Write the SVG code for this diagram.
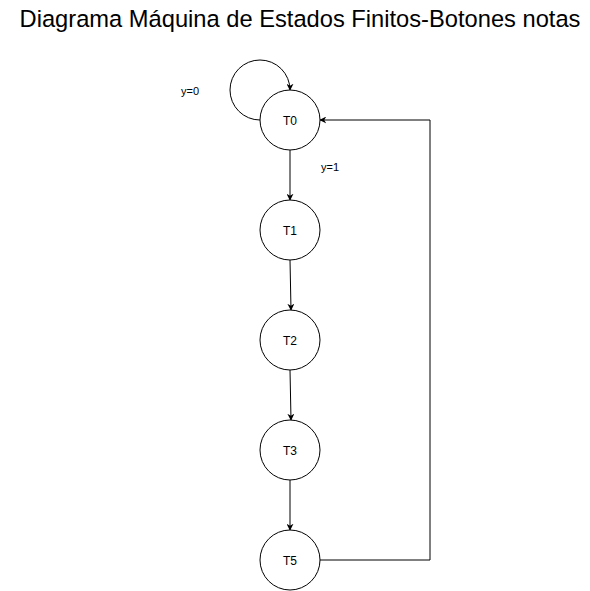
<svg xmlns="http://www.w3.org/2000/svg" width="590" height="591" viewBox="0 0 590 591">
<defs>
<style>
.node circle{fill:#fff;stroke:#000;stroke-width:1}
.lbl{font-family:"Liberation Sans",Arial,sans-serif;font-size:11px;fill:#000;text-anchor:middle;dominant-baseline:central}
.node text{font-size:12px}
.edge{fill:none;stroke:#000;stroke-width:1}
</style>
<marker id="arr" viewBox="0 0 10 10" refX="9" refY="5" markerWidth="7" markerHeight="7" markerUnits="userSpaceOnUse" orient="auto">
<path d="M0,0 L10,5 L0,10 L3,5 Z" fill="#000"/>
</marker>
</defs>
<rect width="590" height="591" fill="#fff"/>
<text x="300" y="27" style="font-family:'Liberation Sans',Arial,sans-serif;font-size:23.7px;text-anchor:middle">Diagrama Máquina de Estados Finitos-Botones notas</text>
<g id="edges">
<path class="edge" d="M260,120 A30,30 0 1 1 290,90" marker-end="url(#arr)"/>
<path class="edge" d="M290,150 L290,200" marker-end="url(#arr)"/>
<path class="edge" d="M290,260 L291,310" marker-end="url(#arr)"/>
<path class="edge" d="M290,370 L291,420" marker-end="url(#arr)"/>
<path class="edge" d="M290,480 L290,530" marker-end="url(#arr)"/>
<path class="edge" d="M320,560 L430,560 L430,120 L320,120" marker-end="url(#arr)"/>
<text class="lbl" x="190" y="91">y=0</text>
<text class="lbl" x="330" y="167">y=1</text>
</g>
<g id="T0" class="node"><circle cx="290" cy="120" r="30"/><text class="lbl" x="290" y="121">T0</text></g>
<g id="T1" class="node"><circle cx="290" cy="230" r="30"/><text class="lbl" x="290" y="231">T1</text></g>
<g id="T2" class="node"><circle cx="290" cy="340" r="30"/><text class="lbl" x="290" y="341">T2</text></g>
<g id="T3" class="node"><circle cx="290" cy="450" r="30"/><text class="lbl" x="290" y="451">T3</text></g>
<g id="T5" class="node"><circle cx="290" cy="560" r="30"/><text class="lbl" x="290" y="561">T5</text></g>
</svg>
